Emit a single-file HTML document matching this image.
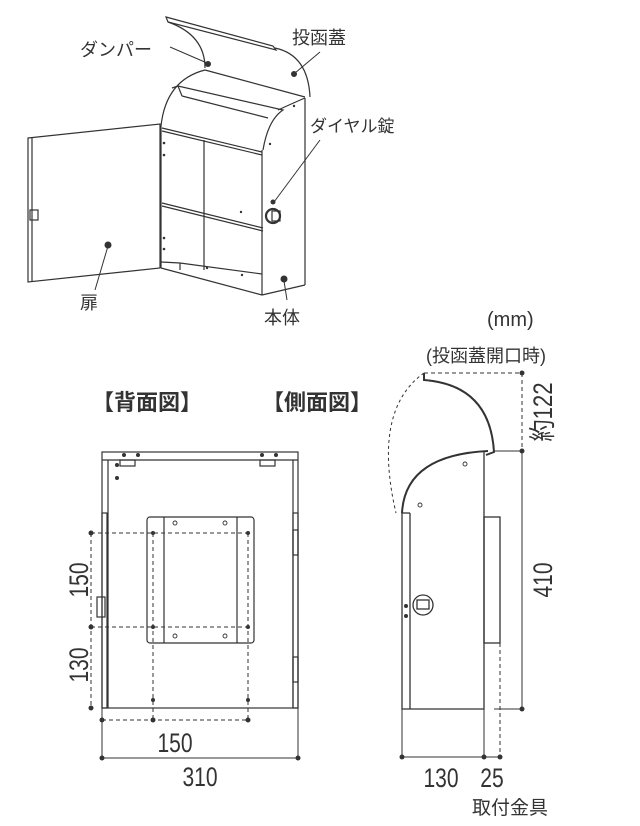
<!DOCTYPE html>
<html><head><meta charset="utf-8"><style>
html,body{margin:0;padding:0;background:#fff;}
svg{display:block;}
text{font-family:"Liberation Sans","Noto Sans CJK JP",sans-serif;fill:#333;}
</style></head><body>
<svg width="640" height="826" viewBox="0 0 640 826" xmlns="http://www.w3.org/2000/svg">
<g fill="none" stroke="#333" stroke-width="1.2">
<polygon points="28,138 160,124 160,268 28,282"/>
<line x1="32" y1="138" x2="32" y2="282"/>
<rect x="30" y="210" width="8" height="10"/>
<polygon points="166,17 273,46 276,50 168,22"/>
<path d="M168,22 Q205,35 205,68"/>
<path d="M275,48 Q308,55 310,97"/>
<path d="M161,126 Q166,80 205,70"/>
<line x1="205" y1="70" x2="305" y2="97"/>
<path d="M172,88 L178,86 L283,110 Q268,120 263,150"/>
<line x1="178" y1="86" x2="182" y2="96"/>
<line x1="182" y1="96" x2="268" y2="118"/>
<path d="M278,110 Q300,100 305,98"/>
<line x1="161" y1="126" x2="161" y2="268"/>
<line x1="262" y1="150" x2="262" y2="295"/>
<line x1="305" y1="98" x2="305" y2="285"/>
<line x1="262" y1="295" x2="305" y2="285"/>
<line x1="161" y1="268" x2="262" y2="295"/>
<line x1="162" y1="128" x2="262" y2="152"/>
<line x1="162" y1="131" x2="262" y2="155"/>
<line x1="162" y1="203" x2="263" y2="228"/>
<line x1="162" y1="206" x2="263" y2="231"/>
<line x1="204" y1="140" x2="204" y2="270"/>
<path d="M161,262 L180,263 L262,274"/>
<line x1="180" y1="263" x2="180" y2="270"/>
<circle cx="273" cy="216" r="7" stroke-width="2.2"/>
<rect x="272" y="211" width="8" height="10"/>
</g>
<g fill="#333">
<circle cx="164" cy="143" r="1.3"/><circle cx="164" cy="155" r="1.3"/>
<circle cx="164" cy="238" r="1.3"/><circle cx="164" cy="249" r="1.3"/>
<circle cx="294" cy="106" r="1.2"/><circle cx="270" cy="144" r="1.2"/><circle cx="241" cy="212" r="1.2"/>
<circle cx="207" cy="268" r="1.2"/><circle cx="242" cy="275" r="1.2"/>
<circle cx="208" cy="64" r="3"/><circle cx="294" cy="74" r="3"/>
<circle cx="273" cy="202" r="2.5"/><circle cx="108" cy="245" r="3.5"/><circle cx="284" cy="279" r="3.5"/>
</g>
<g stroke="#333" stroke-width="1" fill="none">
<line x1="170" y1="47" x2="207" y2="63"/>
<line x1="320" y1="52" x2="295" y2="73"/>
<line x1="320" y1="140" x2="274" y2="202"/>
<line x1="95" y1="290" x2="108" y2="246"/>
<line x1="287" y1="300" x2="284" y2="281"/>
</g>
<text x="80" y="56" font-size="18">ダンパー</text>
<text x="292" y="44" font-size="18">投函蓋</text>
<text x="310" y="132" font-size="17">ダイヤル錠</text>
<text x="80" y="309" font-size="18">扉</text>
<text x="264" y="324" font-size="18">本体</text>
<text x="487" y="326" font-size="20">(mm)</text>
<text x="426" y="362" font-size="18">(投函蓋開口時)</text>
<text x="92" y="410" font-size="22" font-weight="bold">【背面図】</text>
<text x="262" y="410" font-size="22" font-weight="bold">【側面図】</text>

<g fill="none" stroke="#333" stroke-width="1.2">
<rect x="102" y="452" width="196" height="256"/>
<line x1="102" y1="460" x2="298" y2="460"/>
<line x1="108" y1="460" x2="108" y2="708"/>
<line x1="293" y1="460" x2="293" y2="708"/>
<rect x="102" y="513" width="5" height="195"/>
<rect x="293" y="513" width="5" height="195"/>
<rect x="147" y="517" width="107" height="126" rx="3"/>
<line x1="164" y1="517" x2="164" y2="643"/>
<line x1="237" y1="517" x2="237" y2="643"/>
<rect x="97" y="597" width="8" height="20"/>
<rect x="120" y="460" width="15" height="6"/><rect x="260" y="460" width="15" height="6"/>
<rect x="293" y="530" width="5" height="25"/><rect x="293" y="657" width="5" height="25"/>
</g>
<g fill="none" stroke="#333" stroke-width="0.9">
<circle cx="175" cy="523" r="2"/><circle cx="225" cy="523" r="2"/>
<circle cx="175" cy="636" r="2"/><circle cx="225" cy="636" r="2"/>
</g>
<g stroke="#333" stroke-width="1" stroke-dasharray="4,3" fill="none">
<line x1="91" y1="533" x2="249" y2="533"/>
<line x1="91" y1="627" x2="249" y2="627"/>
<line x1="91" y1="533" x2="91" y2="708"/>
<line x1="153" y1="533" x2="153" y2="720"/>
<line x1="248" y1="533" x2="248" y2="720"/>
<line x1="102" y1="720" x2="248" y2="720"/>
</g>
<g stroke="#333" stroke-width="1">
<line x1="102" y1="708" x2="102" y2="760"/>
<line x1="298" y1="708" x2="298" y2="760"/>
<line x1="102" y1="758" x2="298" y2="758"/>
</g>
<g fill="#333">
<circle cx="91" cy="533" r="2.5"/><circle cx="91" cy="627" r="2.5"/><circle cx="91" cy="708" r="2.5"/>
<circle cx="102" cy="720" r="2.5"/><circle cx="153" cy="720" r="2.5"/><circle cx="248" cy="720" r="2.5"/>
<circle cx="153" cy="533" r="2"/><circle cx="248" cy="533" r="2"/><circle cx="153" cy="627" r="2"/><circle cx="248" cy="627" r="2"/>
<circle cx="153" cy="700" r="2"/><circle cx="248" cy="700" r="2"/>
<circle cx="102" cy="758" r="2.5"/><circle cx="298" cy="758" r="2.5"/>
<circle cx="117" cy="465" r="2"/><circle cx="117" cy="478" r="2"/>
<circle cx="124" cy="455" r="2"/><circle cx="138" cy="455" r="2"/><circle cx="262" cy="455" r="2"/><circle cx="276" cy="455" r="2"/>
</g>
<text transform="translate(175,752) scale(0.78,1)" font-size="27" text-anchor="middle">150</text>
<text transform="translate(200,786) scale(0.78,1)" font-size="27" text-anchor="middle">310</text>
<text transform="translate(88,580) rotate(-90) scale(0.78,1)" font-size="27" text-anchor="middle">150</text>
<text transform="translate(88,665) rotate(-90) scale(0.78,1)" font-size="27" text-anchor="middle">130</text>

<g fill="none" stroke="#333" stroke-width="1.3">
<path d="M402,513 L402,709 L484,709 L484,451"/>
<line x1="410" y1="513" x2="410" y2="709"/>
<line x1="402" y1="513" x2="410" y2="513"/>
<path d="M402,513 Q405,455 488,451" stroke-width="2"/>
<path d="M424,373 L424,380 Q490,385 494,452 L486,455" stroke-width="2"/>
<rect x="484" y="517" width="16" height="126"/>
<circle cx="423" cy="605" r="10"/>
<rect x="417" y="600" width="12" height="9"/>
</g>
<path d="M424,373 Q372,410 396,513" fill="none" stroke="#333" stroke-width="1" stroke-dasharray="3,3"/>
<g fill="none" stroke="#333" stroke-width="0.9">
<circle cx="465" cy="464" r="2"/><circle cx="420" cy="505" r="2"/>
</g>
<g fill="#333"><circle cx="406" cy="606" r="2"/><circle cx="406" cy="616" r="2"/></g>
<g stroke="#333" stroke-width="1" stroke-dasharray="4,3" fill="none">
<line x1="424" y1="373" x2="522" y2="373"/>
<line x1="522" y1="373" x2="522" y2="451"/>
<line x1="500" y1="643" x2="500" y2="757"/>
</g>
<g stroke="#333" stroke-width="1">
<line x1="522" y1="451" x2="522" y2="709"/>
<line x1="494" y1="451" x2="522" y2="451"/>
<line x1="494" y1="709" x2="522" y2="709"/>
<line x1="402" y1="709" x2="402" y2="757"/>
<line x1="484" y1="709" x2="484" y2="757"/>
<line x1="402" y1="757" x2="500" y2="757"/>
</g>
<g fill="#333">
<circle cx="522" cy="373" r="2.5"/><circle cx="522" cy="451" r="2.5"/><circle cx="522" cy="709" r="2.5"/>
<circle cx="402" cy="757" r="2.5"/><circle cx="484" cy="757" r="2.5"/><circle cx="500" cy="757" r="2.5"/>
</g>
<text transform="translate(552,412) rotate(-90) scale(0.82,1)" font-size="27" text-anchor="middle">約122</text>
<text transform="translate(552,580) rotate(-90) scale(0.78,1)" font-size="27" text-anchor="middle">410</text>
<text transform="translate(441,787) scale(0.78,1)" font-size="27" text-anchor="middle">130</text>
<text transform="translate(492,787) scale(0.78,1)" font-size="27" text-anchor="middle">25</text>
<text x="472" y="814" font-size="19">取付金具</text>
</svg>
</body></html>
